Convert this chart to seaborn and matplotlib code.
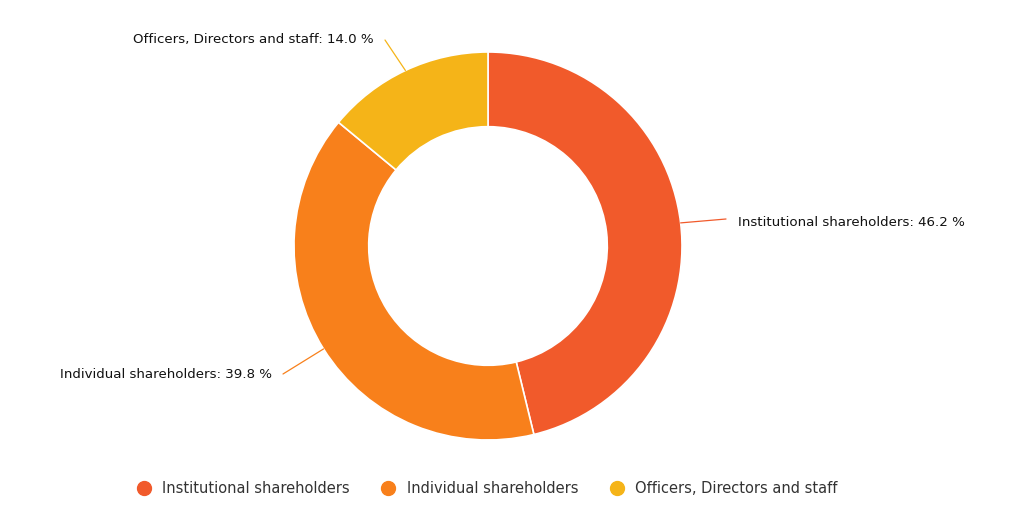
import numpy as np
import seaborn as sns
import matplotlib.pyplot as plt
from matplotlib.lines import Line2D

categories = ["Institutional shareholders", "Individual shareholders", "Officers, Directors and staff"]
shares = [46.2, 39.8, 14.0]
colors = ["#F15A2B", "#F8801B", "#F5B418"]


def main():
    sns.set_theme(style="white")
    plt.rcParams["font.family"] = ["DejaVu Sans"]
    palette = sns.color_palette(colors)

    fig = plt.figure(figsize=(10.24, 5.21), dpi=100)
    ax = fig.add_axes([0, 0, 1, 1])
    ax.set_xlim(0, 1024)
    ax.set_ylim(0, 521)
    ax.set_aspect("equal")
    ax.axis("off")

    cx, cy, r = 488, 275, 194
    wedges, _ = ax.pie(
        shares, colors=palette, startangle=90, counterclock=False,
        center=(cx, cy), radius=r,
        wedgeprops=dict(width=r * 0.385, edgecolor="white", linewidth=1.2),
    )
    ax.set_xlim(0, 1024)
    ax.set_ylim(0, 521)

    # connector end points and text anchors (pixel coords, y up)
    ends = [(726, 302), (283, 147), (385, 481)]
    for w, cat, val, col, end in zip(wedges, categories, shares, palette, ends):
        ang = np.deg2rad((w.theta1 + w.theta2) / 2)
        x0, y0 = cx + r * np.cos(ang), cy + r * np.sin(ang)
        ax.plot([x0, end[0]], [y0, end[1]], color=col, lw=0.9)
        ha = "left" if end[0] > cx else "right"
        dx = 12 if ha == "left" else -11
        ax.text(end[0] + dx, end[1] - 3 if ha == "left" else end[1], "%s: %.1f %%" % (cat, val),
                ha=ha, va="center", fontsize=9.6, color="#111111")

    handles = [Line2D([0], [0], marker="o", ls="", markersize=10, markerfacecolor=c,
                      markeredgecolor=c) for c in palette]
    fig.legend(handles, categories, loc="center", bbox_to_anchor=(0.472, 0.063), ncol=3,
               frameon=False, fontsize=10.5, handletextpad=0.25, columnspacing=1.65,
               labelcolor="#333333")

    plt.savefig("out.png", dpi=100, facecolor="white")


if __name__ == "__main__":
    main()
